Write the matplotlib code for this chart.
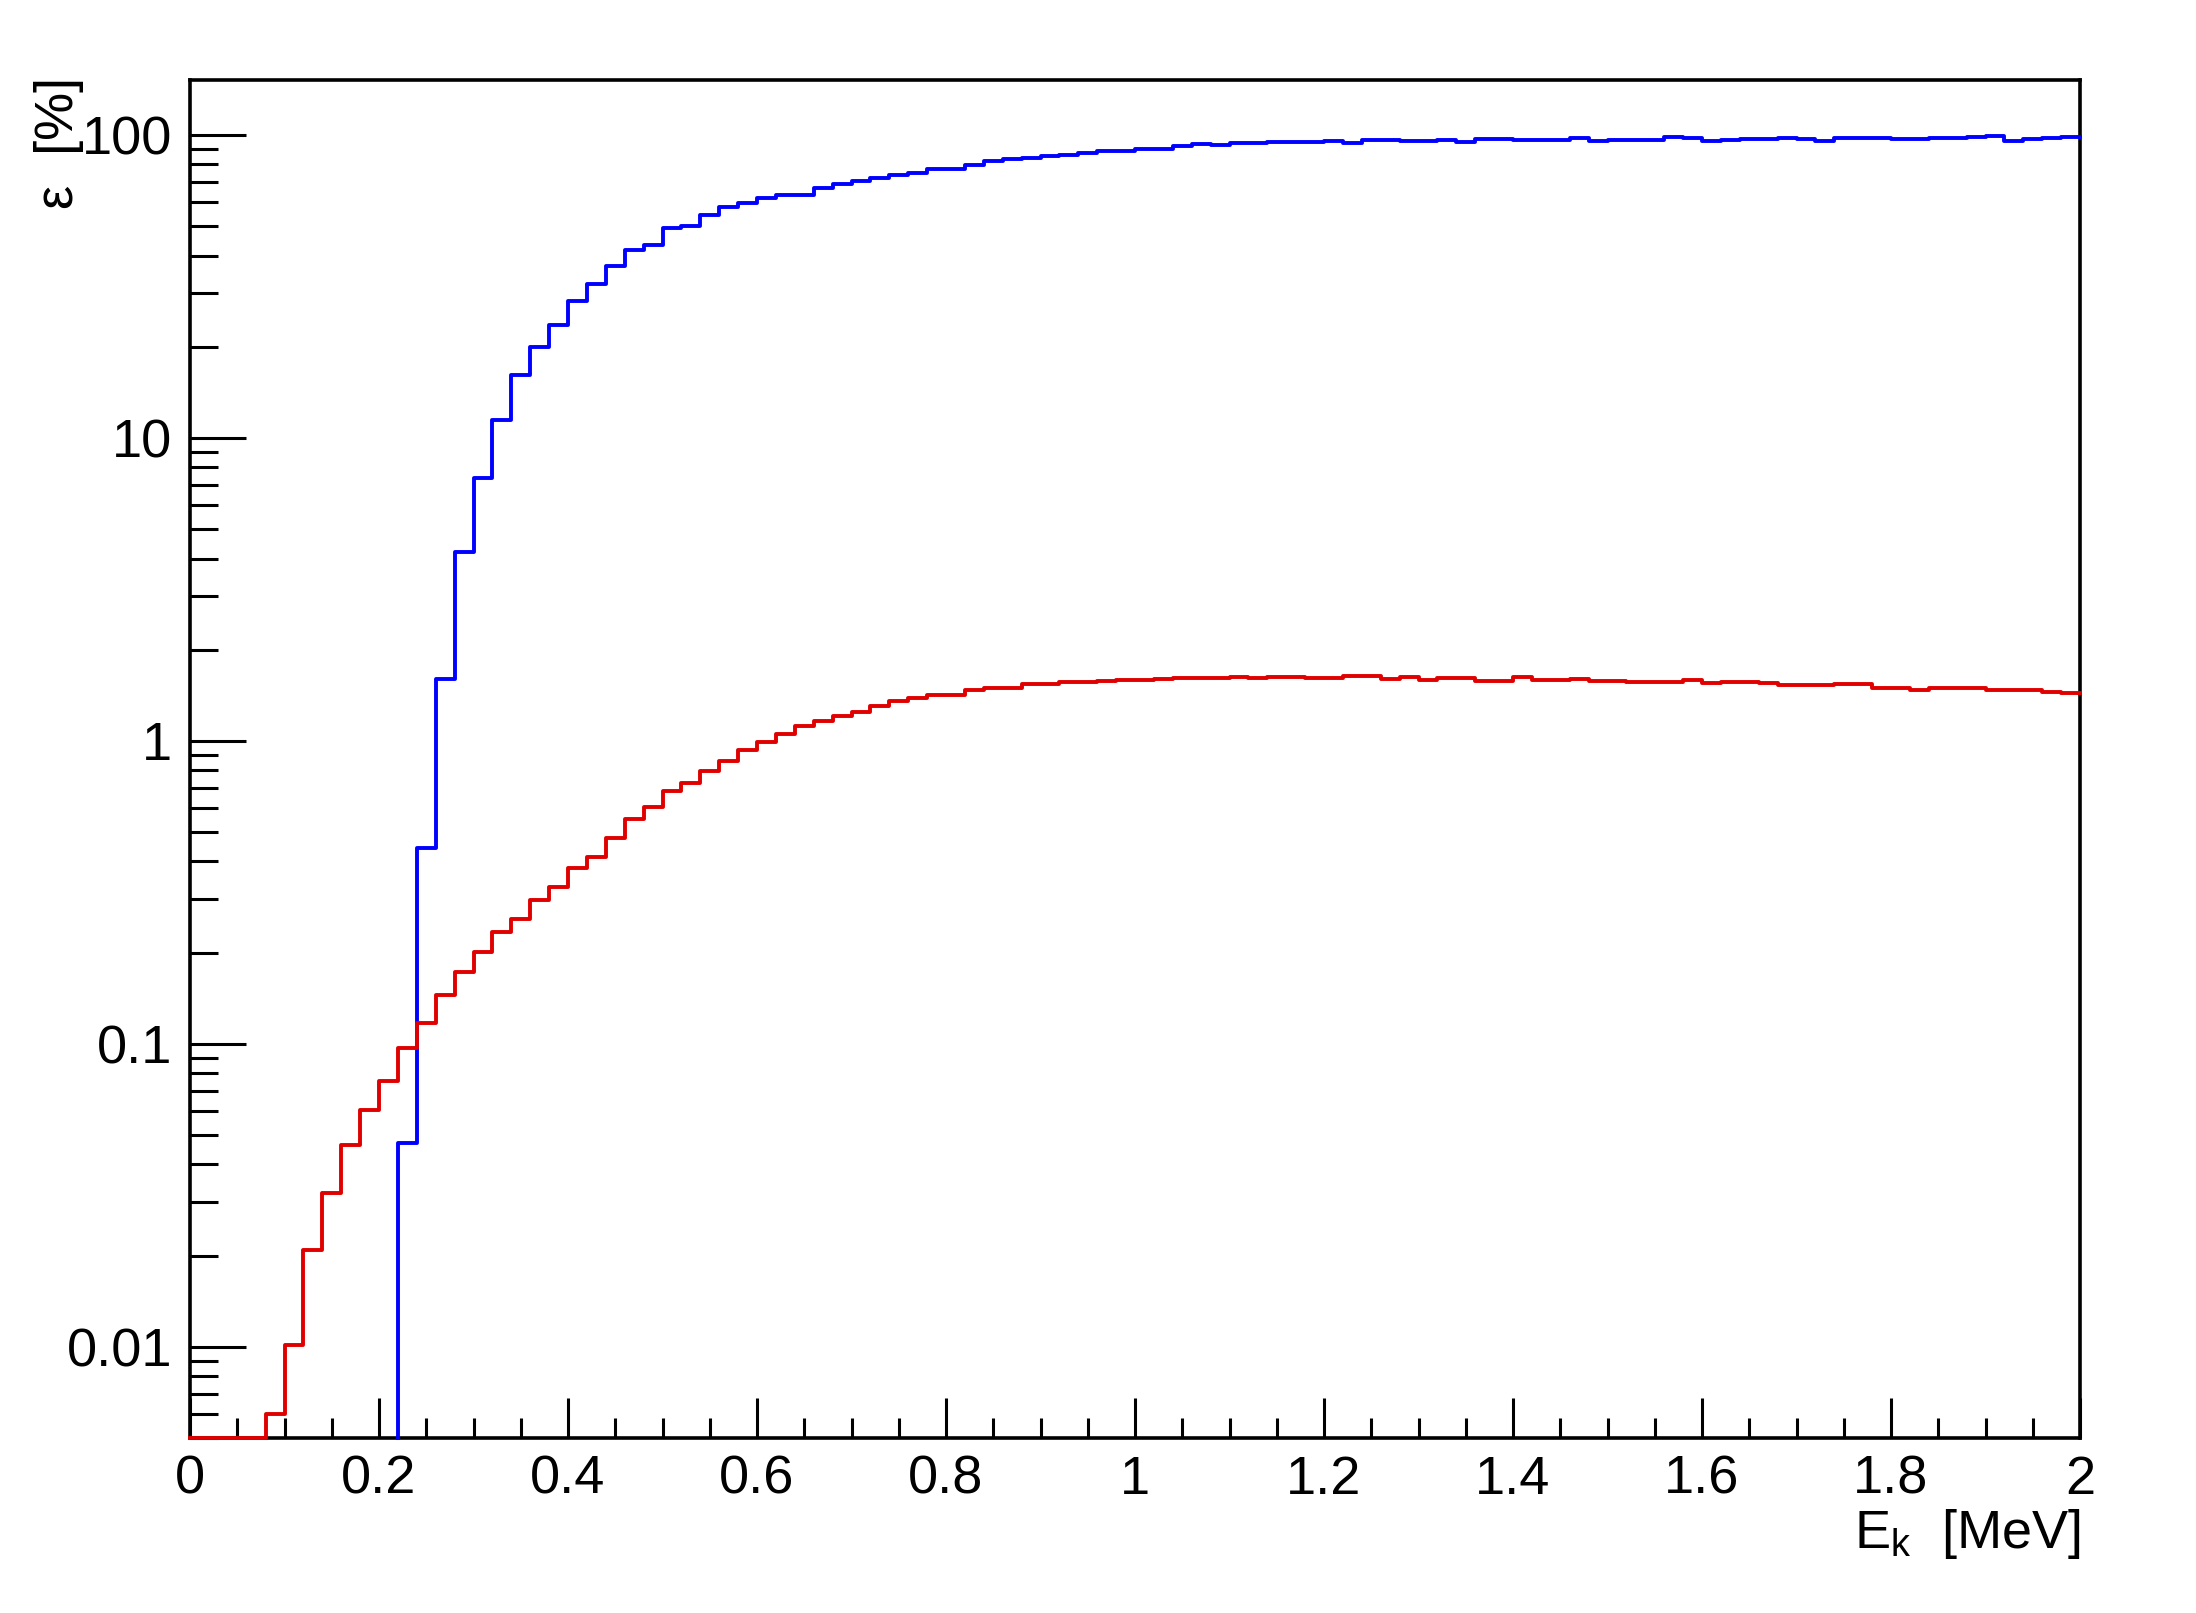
import numpy as np
import matplotlib
matplotlib.use("Agg")
import matplotlib.pyplot as plt
from matplotlib.ticker import FixedLocator, MultipleLocator, FuncFormatter, LogLocator, NullFormatter

plt.rcParams['font.family'] = ['Liberation Sans', 'DejaVu Sans']
plt.rcParams['mathtext.default'] = 'regular'

# 100 bins, 0.02 MeV wide, from 0 to 2 MeV
bin_edges = np.linspace(0.0, 2.0, 101)

# efficiency [%] per bin (blue), zero below 0.22 MeV
eff_blue = [0]*11 + [
    0.047, 0.444, 1.6, 4.2, 7.4, 11.5, 16.1, 20.0, 23.6, 28.3,
    32.3, 37.0, 41.6, 43.5, 49.5, 50.0, 54.5, 58.1, 59.7, 61.9,
    63.6, 63.6, 66.7, 68.8, 70.3, 71.9, 73.6, 75.0, 77.5, 77.5,
    79.8, 82.3, 83.3, 84.2, 85.5, 85.9, 87.1, 88.4, 88.8, 89.7,
    89.9, 92.0, 93.7, 93.0, 94.0, 94.4, 94.6, 95.1, 95.1, 95.6,
    94.5, 96.0, 96.7, 95.3, 95.8, 96.2, 94.9, 97.4, 97.4, 96.4,
    96.0, 96.7, 97.6, 95.3, 96.2, 96.0, 96.0, 98.7, 98.0, 95.6,
    96.7, 97.1, 97.4, 98.1, 97.4, 95.8, 97.6, 97.6, 97.9, 97.1,
    97.4, 97.6, 97.9, 98.3, 99.1, 95.6, 97.4, 97.9, 98.7,
]

# efficiency [%] per bin (red), first bins below the axis range
eff_red = [
    0.004, 0.004, 0.004, 0.004, 0.0060, 0.0101, 0.0209, 0.0323, 0.0465, 0.0604,
    0.0757, 0.097, 0.1175, 0.1446, 0.1726, 0.201, 0.234, 0.2575, 0.2985, 0.330,
    0.381, 0.415, 0.480, 0.553, 0.605, 0.685, 0.727, 0.798, 0.861, 0.932,
    0.99, 1.057, 1.118, 1.161, 1.209, 1.243, 1.304, 1.351, 1.383, 1.418,
    1.418, 1.476, 1.495, 1.50, 1.54, 1.54, 1.57, 1.56, 1.58, 1.59,
    1.585, 1.60, 1.61, 1.61, 1.615, 1.63, 1.61, 1.62, 1.625, 1.61,
    1.61, 1.635, 1.64, 1.60, 1.625, 1.59, 1.61, 1.61, 1.58, 1.58,
    1.62, 1.59, 1.59, 1.60, 1.575, 1.575, 1.56, 1.565, 1.565, 1.59,
    1.555, 1.57, 1.565, 1.555, 1.535, 1.535, 1.53, 1.54, 1.54, 1.50,
    1.495, 1.475, 1.49, 1.49, 1.50, 1.47, 1.47, 1.47, 1.45, 1.435,
]

y_ticks = [0.01, 0.1, 1, 10, 100]
y_ticklabels = ["0.01", "0.1", "1", "10", "100"]
ymin, ymax = 0.005, 152


def step_path(edges, vals, floor):
    vals = np.asarray(vals, dtype=float)
    nz = np.nonzero(vals)[0][0]
    e = edges[nz:]
    v = np.clip(vals[nz:], floor, None)
    xs = np.repeat(e, 2)[1:-1]
    ys = np.repeat(v, 2)
    if nz > 0:
        # histogram starts from zero: vertical rise from the bottom
        xs = np.concatenate([[e[0]], xs])
        ys = np.concatenate([[floor], ys])
    return xs, ys


fig = plt.figure(figsize=(21.96, 16.13), dpi=100)
ax = fig.add_axes([190/2196, 1 - 1438/1613, (2080-190)/2196, (1438-80)/1613])

xb, yb = step_path(bin_edges, eff_blue, ymin)
ax.plot(xb, yb, color='#0000ff', lw=2.8, zorder=2.9, clip_on=False)
xr, yr = step_path(bin_edges, eff_red, ymin)
ax.plot(xr, yr, color='#e00000', lw=2.8, zorder=3, clip_on=False)

ax.set_yscale('log')
ax.set_xlim(0, 2)
ax.set_ylim(ymin, ymax)

ax.xaxis.set_major_locator(MultipleLocator(0.2))
ax.xaxis.set_minor_locator(MultipleLocator(0.05))
ax.xaxis.set_major_formatter(FuncFormatter(lambda v, p: "%g" % round(v, 2)))

ax.yaxis.set_major_locator(FixedLocator(y_ticks))
ax.set_yticklabels(y_ticklabels)
ax.yaxis.set_minor_locator(LogLocator(base=10, subs=np.arange(2, 10)))
ax.yaxis.set_minor_formatter(NullFormatter())

ax.tick_params(axis='both', which='both', direction='in', top=False, right=False,
               width=2.2, labelsize=39, color='black')
ax.tick_params(axis='x', which='major', length=29, pad=12)
ax.tick_params(axis='x', which='minor', length=14.5)
ax.tick_params(axis='y', which='major', length=40, pad=13)
ax.tick_params(axis='y', which='minor', length=20)

for s in ax.spines.values():
    s.set_linewidth(2.6)

fig.text(2080/2196, 1 - 1548/1613, r"$E_{k}$  [MeV]", fontsize=39,
         ha='right', va='baseline')
fig.text(59/2196, 1 - 77/1613, "ε  [%]", fontsize=39, rotation=90,
         ha='center', va='top')

fig.savefig("out.png", dpi=100, facecolor='white')
